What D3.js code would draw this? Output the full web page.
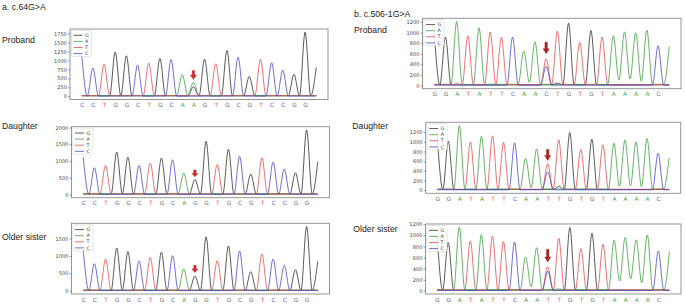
<!DOCTYPE html>
<html>
<head>
<meta charset="utf-8">
<title>Sanger chromatograms</title>
<script src="https://cdn.jsdelivr.net/npm/d3@7"></script>
<style>
  body { margin: 0; background: #fff; }
  svg { display: block; font-family: "Liberation Sans", Arial, sans-serif; }
</style>
</head>
<body>
<svg id="chart" width="685" height="307"></svg>
<script>
// ---- data ----
// base calls (21 per trace)
const aProbandSeq = "CCTGGCTGCAAGTGCGTCCGG";
const aRelativeSeq = "CCTGGCTGCAGGTGCGTCCGG";
const bProbandSeq = "GGATATTCAACTGTGTAAAAC";
const bRelativeSeq = "GGATATTCAATTGTGTAAAAC";

// peak height of the called base at each position
const aProbandHeights = [1150, 787, 898, 1231, 1130, 870, 926, 1055, 1028, 602, 389, 1037, 907, 1278, 1092, 555, 1028, 935, 731, 611, 1787];
const aDaughterHeights = [1110, 800, 870, 1270, 1120, 870, 940, 1090, 1040, 640, 450, 1590, 900, 1350, 1140, 610, 1100, 970, 760, 650, 1930];
const aSisterHeights = [1180, 780, 913, 1230, 1125, 856, 952, 1115, 1010, 625, 423, 1548, 865, 1288, 1144, 548, 1058, 913, 730, 606, 1846];
const bProbandHeights = [980, 912, 1206, 937, 1087, 1006, 906, 912, 644, 825, 362, 1025, 1175, 812, 1037, 912, 937, 1012, 994, 1044, 750];
const bDaughterHeights = [1100, 1014, 1338, 993, 1117, 1124, 986, 979, 662, 855, 545, 1041, 1193, 841, 1055, 938, 972, 1041, 1000, 1069, 766];
const bSisterHeights = [1000, 868, 1146, 899, 1013, 983, 887, 880, 609, 778, 434, 947, 1140, 760, 1037, 838, 911, 959, 917, 1007, 718];

// secondary peaks [position, base, height] (incl. the partial peak at the right end)
const aProbandExtra = [[10, "G", 260], [21, "G", 805]];
const aDaughterExtra = [[21, "G", 980]];
const aSisterExtra = [[21, "G", 846]];
const bProbandExtra = [[10, "T", 500], [11, "G", 45], [2, "G", 30], [21, "A", 737]];
const bDaughterExtra = [[10, "C", 379], [11, "G", 75], [21, "A", 669]];
const bSisterExtra = [[10, "C", 356], [11, "A", 35], [21, "A", 706]];

// trough levels between neighbouring peaks of the same base [position, base, value]
const aTroughs = [];
const bProbandTroughs = [[8.5, "A", 60], [16.5, "A", 100], [17.5, "A", 120], [18.5, "A", 80]];
const bDaughterTroughs = [[8.5, "A", 50], [16.5, "A", 80], [17.5, "A", 90], [18.5, "A", 70]];
const bSisterTroughs = [[8.5, "A", 72], [16.5, "A", 175], [17.5, "A", 217], [18.5, "A", 145]];

// y tick labels
const aProbandTicks = [0, 250, 500, 750, 1000, 1250, 1500, 1750];
const aDaughterTicks = [0, 500, 1000, 1500, 2000];
const aSisterTicks = [0, 500, 1000, 1500];
const bTicks = [0, 200, 400, 600, 800, 1000, 1200];

// arrows [position, tip value, tail value]
const aProbandArrow = [10, 466, 717];
const aDaughterArrow = [10, 528, 730];
const aSisterArrow = [10, 528, 730];
const bProbandArrow = [10, 597, 816];
const bDaughterArrow = [10, 615, 842];
const bSisterArrow = [10, 518, 747];

const channels = ["G", "A", "T", "C"];
const rowLabels = ["Proband", "Daughter", "Older sister"];

// ---- styles ----
const traceColor = { G: "#2e2e2e", A: "#3f9f3f", T: "#e54c4c", C: "#4848c9" };
const letterColor = { G: "#6a6a6a", A: "#4da24d", T: "#e25c5c", C: "#5b5bd2" };
const baseLevel = { G: 12, A: 22, T: 17, C: 6 };

const panels = [
  { seq: aProbandSeq, heights: aProbandHeights, extra: aProbandExtra, troughs: aTroughs, ticks: aProbandTicks, arrow: aProbandArrow, arrowColor: "#d8282a",
    box: [70, 29, 328, 99.5], label: rowLabels[0], labelPos: [2, 42.7] },
  { seq: aRelativeSeq, heights: aDaughterHeights, extra: aDaughterExtra, troughs: aTroughs, ticks: aDaughterTicks, arrow: aDaughterArrow, arrowColor: "#d8282a",
    box: [71.5, 126.7, 329.5, 197.7], label: rowLabels[1], labelPos: [2, 129.3] },
  { seq: aRelativeSeq, heights: aSisterHeights, extra: aSisterExtra, troughs: aTroughs, ticks: aSisterTicks, arrow: aSisterArrow, arrowColor: "#d8282a",
    box: [71.5, 223.3, 329.5, 294], label: rowLabels[2], labelPos: [2, 240] },
  { seq: bProbandSeq, heights: bProbandHeights, extra: bProbandExtra, troughs: bProbandTroughs, ticks: bTicks, arrow: bProbandArrow, arrowColor: "#b41f1f",
    box: [422.5, 18.3, 681, 88.7], label: rowLabels[0], labelPos: [354, 33.3] },
  { seq: bRelativeSeq, heights: bDaughterHeights, extra: bDaughterExtra, troughs: bDaughterTroughs, ticks: bTicks, arrow: bDaughterArrow, arrowColor: "#b41f1f",
    box: [425.7, 122.3, 680.7, 193.3], label: rowLabels[1], labelPos: [352.3, 129.3] },
  { seq: bRelativeSeq, heights: bSisterHeights, extra: bSisterExtra, troughs: bSisterTroughs, ticks: bTicks, arrow: bSisterArrow, arrowColor: "#b41f1f",
    box: [425.5, 224, 681, 294], label: rowLabels[2], labelPos: [353.3, 231.7] }
];

const svg = d3.select("#chart");

svg.append("text").attr("x", 2).attr("y", 9.5).attr("font-size", 8.7).attr("fill", "#222").text("a. c.64G>A");
svg.append("text").attr("x", 354).attr("y", 16.7).attr("font-size", 8.7).attr("fill", "#222").text("b. c.506-1G>A");

function channelPoints(p, ch) {
  const last = p.seq.length; // trace runs from 0 to 21
  const base = baseLevel[ch];
  const peaks = [];
  p.seq.split("").forEach((b, i) => { if (b === ch) peaks.push({ i, h: p.heights[i] }); });
  p.extra.forEach(([i, b, h]) => { if (b === ch) peaks.push({ i, h }); });
  peaks.sort((a, b) => a.i - b.i);
  const trough = x => {
    const t = p.troughs.find(d => d[0] === x && d[1] === ch);
    return t ? t[2] : base;
  };
  const pts = [];
  if (!peaks.length || peaks[0].i > 0) pts.push([0, base]);
  peaks.forEach(pk => {
    if (pk.i > 0) {
      const lx = pk.i - 0.5;
      if (!pts.length || pts[pts.length - 1][0] < lx) pts.push([lx, trough(lx)]);
    }
    pts.push([pk.i, pk.h]);
    if (pk.i < last) pts.push([pk.i + 0.5, trough(pk.i + 0.5)]);
  });
  if (pts[pts.length - 1][0] < last) pts.push([last, base]);
  return pts;
}

panels.forEach(p => {
  const [x0, y0, x1, y1] = p.box;
  const n = p.seq.length;
  const maxV = d3.max(p.heights.concat(p.extra.map(d => d[2])));
  const x = d3.scaleLinear().domain([-0.05 * n, n + 0.05 * n]).range([x0, x1]);
  const y = d3.scaleLinear().domain([-0.05 * maxV, maxV * 1.05]).range([y1, y0]);

  const g = svg.append("g");

  svg.append("text").attr("x", p.labelPos[0]).attr("y", p.labelPos[1])
    .attr("font-size", 8.7).attr("fill", "#222").text(p.label);

  const line = d3.line().x(d => x(d[0])).y(d => y(d[1])).curve(d3.curveMonotoneX);
  channels.forEach(ch => {
    g.append("path").attr("d", line(channelPoints(p, ch)))
      .attr("fill", "none").attr("stroke", traceColor[ch]).attr("stroke-width", 0.8);
  });

  // frame
  g.append("rect").attr("x", x0).attr("y", y0).attr("width", x1 - x0).attr("height", y1 - y0)
    .attr("fill", "none").attr("stroke", "#8c8c8c").attr("stroke-width", 0.9);

  // y axis
  const ya = g.append("g").attr("transform", `translate(${x0},0)`)
    .call(d3.axisLeft(y).tickValues(p.ticks).tickFormat(d3.format("d")).tickSize(2).tickPadding(1.2));
  ya.select(".domain").remove();
  ya.selectAll("line").attr("stroke", "#555").attr("stroke-width", 0.6);
  ya.selectAll("text").attr("font-size", 5).attr("fill", "#444").attr("font-family", "'DejaVu Sans', sans-serif");

  // base calls
  const xa = g.append("g").attr("transform", `translate(0,${y1})`)
    .call(d3.axisBottom(x).tickValues(d3.range(n)).tickFormat(i => p.seq[i]).tickSize(0).tickPadding(3.5));
  xa.select(".domain").remove();
  xa.selectAll("text").attr("font-size", 5.8).attr("font-family", "'DejaVu Sans', sans-serif")
    .attr("fill", i => letterColor[p.seq[i]]);

  // legend
  const lg = g.append("g").attr("transform", `translate(${x0 + 1.5},${y0 + 1.5})`);
  lg.append("rect").attr("width", 20).attr("height", 26).attr("rx", 1.5)
    .attr("fill", "#fff").attr("fill-opacity", 0.8).attr("stroke", "#d4d4d4").attr("stroke-width", 0.6);
  channels.forEach((ch, k) => {
    const ry = 4.8 + k * 6.1;
    lg.append("line").attr("x1", 2).attr("x2", 11).attr("y1", ry).attr("y2", ry)
      .attr("stroke", traceColor[ch]).attr("stroke-width", 0.8);
    lg.append("text").attr("x", 13.5).attr("y", ry).attr("dy", "0.35em")
      .attr("font-size", 4.8).attr("fill", "#333").attr("font-family", "'DejaVu Sans', sans-serif").text(ch);
  });

  // arrow
  const [ai, tipV, tailV] = p.arrow;
  const ax = x(ai), tipY = y(tipV), tailY = y(tailV);
  const headLen = Math.min(5, (tipY - tailY) * 0.5);
  g.append("path")
    .attr("d", `M${ax - 1.2},${tailY} L${ax + 1.2},${tailY} L${ax + 1.2},${tipY - headLen} L${ax + 3},${tipY - headLen} L${ax},${tipY} L${ax - 3},${tipY - headLen} L${ax - 1.2},${tipY - headLen} Z`)
    .attr("fill", p.arrowColor).attr("stroke", d3.color(p.arrowColor).darker(0.8)).attr("stroke-width", 0.4);
});
</script>
</body>
</html>
